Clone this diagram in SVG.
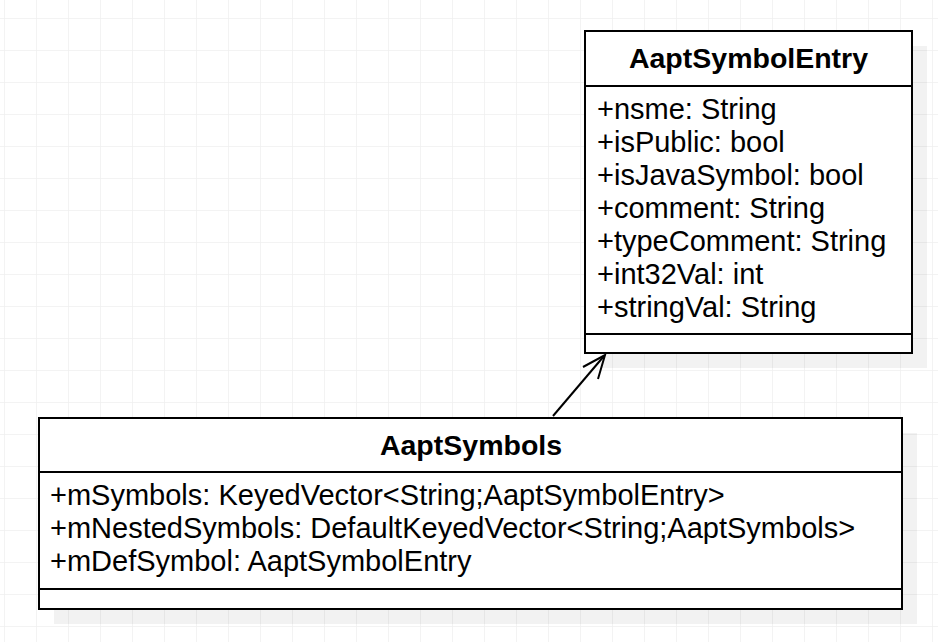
<svg xmlns="http://www.w3.org/2000/svg" width="938" height="642" viewBox="0 0 938 642">
<defs>
<pattern id="grid" x="4" y="18" width="32" height="32" patternUnits="userSpaceOnUse">
<path d="M0 0H32M0 0V32" fill="none" stroke="#efefef" stroke-width="1.5"/>
</pattern>
</defs>
<style>
.box{fill:#ffffff;stroke:#000000;stroke-width:2}
.sh{fill:#000000;fill-opacity:0.05}
.sep{stroke:#000000;stroke-width:2}
.title{font-family:"Liberation Sans",Arial,sans-serif;font-size:28.5px;font-weight:bold;fill:#000000;text-anchor:middle}
.attr{font-family:"Liberation Sans",Arial,sans-serif;font-size:29px;fill:#000000}
.conn{fill:none;stroke:#000000;stroke-width:2}
</style>
<rect width="938" height="642" fill="#ffffff"/>
<rect width="938" height="642" fill="url(#grid)"/>
<g id="AaptSymbolEntry">
<rect class="sh" x="600" y="46" width="327" height="322"/>
<rect class="box" x="585" y="31" width="327" height="322"/>
<line class="sep" x1="585" y1="86" x2="912" y2="86"/>
<line class="sep" x1="585" y1="334" x2="912" y2="334"/>
<text class="title" x="748.5" y="68">AaptSymbolEntry</text>
<text class="attr" x="597" y="118.5">+nsme: String</text>
<text class="attr" x="597" y="151.5">+isPublic: bool</text>
<text class="attr" x="597" y="184.5">+isJavaSymbol: bool</text>
<text class="attr" x="597" y="217.5">+comment: String</text>
<text class="attr" x="597" y="250.5">+typeComment: String</text>
<text class="attr" x="597" y="283.5">+int32Val: int</text>
<text class="attr" x="597" y="316.5">+stringVal: String</text>
</g>
<g id="AaptSymbols">
<rect class="sh" x="54" y="433" width="863" height="191"/>
<rect class="box" x="39" y="418" width="863" height="191"/>
<line class="sep" x1="39" y1="472" x2="902" y2="472"/>
<line class="sep" x1="39" y1="589" x2="902" y2="589"/>
<text class="title" x="471" y="455">AaptSymbols</text>
<text class="attr" x="50" y="505">+mSymbols: KeyedVector&lt;String;AaptSymbolEntry&gt;</text>
<text class="attr" x="50" y="538">+mNestedSymbols: DefaultKeyedVector&lt;String;AaptSymbols&gt;</text>
<text class="attr" x="50" y="571">+mDefSymbol: AaptSymbolEntry</text>
</g>
<g id="connectors">
<line class="conn" x1="553" y1="416" x2="604" y2="356"/>
<polyline class="conn" points="583,367 605,355 598,379"/>
</g>
</svg>
